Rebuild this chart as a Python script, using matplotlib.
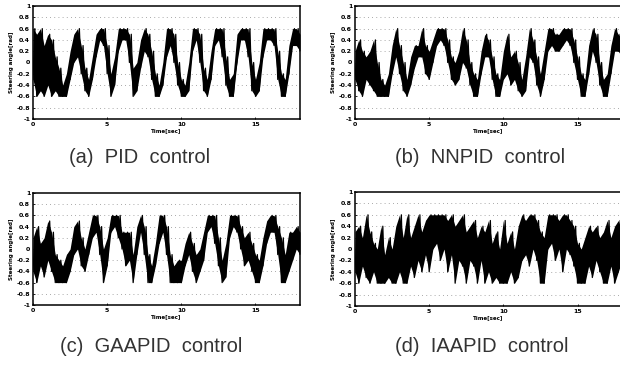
import numpy as np
import matplotlib
matplotlib.use("Agg")
import matplotlib.pyplot as plt

# sample times (s), every 0.25 s
t = np.arange(73) * 0.25

# band of the steering angle [rad]: low / high edge per sample
pid_lo = [-0.3, -0.6, -0.5, -0.6, -0.4, -0.6, -0.5, -0.6, -0.6, -0.6, -0.3, 0.0, 0.1, -0.2, -0.5, -0.6,
          -0.3, 0.1, 0.4, 0.3, -0.2, -0.6, -0.4, 0.2, 0.4, 0.4, 0.0, -0.6, -0.5, -0.1, 0.2, 0.1,
          -0.3, -0.6, -0.6, -0.4, 0.1, 0.3, 0.0, -0.4, -0.6, -0.6, -0.5, 0.2, 0.4, 0.0, -0.5, -0.6,
          -0.3, 0.3, 0.4, 0.1, -0.4, -0.6, -0.6, 0.0, 0.4, 0.4, 0.1, -0.5, -0.6, -0.5, 0.1, 0.4,
          0.4, 0.3, -0.3, -0.6, -0.6, -0.2, 0.3, 0.3, 0.2]
pid_hi = [0.6, 0.5, 0.6, 0.3, 0.5, 0.4, 0.1, -0.1, -0.4, -0.2, 0.2, 0.5, 0.6, 0.3, -0.1, -0.3,
          0.1, 0.5, 0.6, 0.6, 0.3, -0.2, 0.1, 0.6, 0.6, 0.6, 0.5, -0.1, 0.0, 0.4, 0.6, 0.5,
          0.2, -0.2, -0.4, 0.0, 0.6, 0.6, 0.5, 0.0, -0.3, -0.4, 0.0, 0.6, 0.6, 0.5, -0.1, -0.3,
          0.2, 0.6, 0.6, 0.6, 0.1, -0.3, -0.2, 0.5, 0.6, 0.6, 0.6, 0.0, -0.3, 0.0, 0.6, 0.6,
          0.6, 0.6, 0.2, -0.2, -0.3, 0.3, 0.6, 0.6, 0.5]

nnpid_lo = [-0.3, -0.5, -0.6, -0.3, -0.4, -0.5, -0.6, -0.6, -0.6, -0.6, -0.2, 0.1, -0.2, -0.5, -0.6, -0.4,
            -0.1, 0.1, 0.1, -0.2, -0.3, 0.0, 0.3, 0.4, 0.3, 0.0, -0.3, -0.4, -0.3, 0.0, -0.1, -0.4,
            -0.6, -0.6, -0.2, 0.1, 0.1, -0.3, -0.6, -0.6, -0.3, -0.2, -0.4, -0.3, -0.5, -0.6, -0.5, 0.1,
            0.0, -0.4, -0.6, -0.3, 0.2, 0.3, 0.2, 0.2, 0.3, 0.4, 0.3, 0.0, -0.3, -0.6, -0.6, -0.2,
            0.2, 0.0, -0.4, -0.6, -0.6, -0.2, 0.2, 0.2, 0.1]
nnpid_hi = [0.2, 0.4, 0.2, 0.1, 0.2, 0.4, 0.0, -0.3, -0.4, -0.2, 0.3, 0.6, 0.3, 0.0, -0.3, 0.1,
            0.3, 0.3, 0.6, 0.3, 0.2, 0.4, 0.6, 0.6, 0.6, 0.4, 0.1, 0.0, 0.2, 0.6, 0.4, 0.0,
            -0.2, -0.3, 0.2, 0.5, 0.4, 0.1, -0.2, -0.3, 0.2, 0.5, 0.1, 0.2, 0.0, -0.3, 0.1, 0.6,
            0.4, 0.1, -0.2, 0.2, 0.6, 0.6, 0.5, 0.5, 0.6, 0.6, 0.6, 0.4, 0.1, -0.2, -0.3, 0.3,
            0.6, 0.5, 0.0, -0.3, -0.2, 0.3, 0.6, 0.5, 0.4]

gaapid_lo = [-0.4, -0.6, -0.3, -0.5, -0.2, -0.4, -0.6, -0.6, -0.6, -0.6, -0.4, -0.1, 0.0, -0.3, -0.4, -0.1,
             0.2, 0.3, -0.1, -0.6, -0.3, 0.3, 0.4, 0.2, 0.0, -0.3, -0.2, -0.6, -0.1, 0.3, -0.1, -0.6,
             -0.6, -0.3, 0.1, 0.3, -0.1, -0.6, -0.6, -0.6, -0.6, -0.3, -0.1, -0.4, -0.6, -0.4, -0.2, 0.3,
             0.4, 0.1, -0.3, -0.6, -0.5, 0.2, 0.4, 0.3, 0.0, -0.3, -0.2, -0.4, -0.6, -0.6, -0.3, 0.1,
             0.3, 0.3, -0.1, -0.6, -0.6, -0.4, -0.2, 0.0, -0.1]
gaapid_hi = [0.2, 0.4, 0.1, 0.2, 0.5, 0.3, -0.1, -0.2, -0.3, -0.1, 0.0, 0.4, 0.5, 0.2, 0.0, 0.3,
             0.6, 0.6, 0.4, 0.0, 0.2, 0.6, 0.6, 0.6, 0.3, 0.3, 0.3, -0.1, 0.4, 0.6, 0.4, -0.1,
             -0.3, 0.1, 0.6, 0.6, 0.4, -0.1, -0.3, -0.2, -0.2, 0.1, 0.3, 0.1, -0.1, 0.0, 0.3, 0.6,
             0.6, 0.6, 0.2, -0.2, 0.1, 0.6, 0.6, 0.6, 0.4, 0.2, 0.3, 0.1, -0.1, -0.2, 0.2, 0.5,
             0.6, 0.6, 0.4, 0.2, -0.1, 0.3, 0.3, 0.4, 0.3]

iaapid_lo = [-0.4, -0.6, -0.3, -0.5, -0.6, -0.4, -0.6, -0.6, -0.6, -0.5, -0.6, -0.6, -0.4, -0.6, -0.6, -0.3,
             -0.5, -0.2, -0.4, -0.1, -0.4, 0.0, 0.1, -0.2, 0.0, -0.4, -0.1, -0.6, -0.2, -0.3, -0.6, -0.2,
             -0.3, -0.6, -0.2, -0.6, -0.4, -0.6, -0.5, -0.6, -0.6, -0.6, -0.4, -0.6, -0.5, -0.2, -0.1, -0.3,
             0.0, -0.2, -0.6, -0.6, 0.0, 0.1, -0.2, 0.0, -0.4, 0.0, -0.1, -0.3, -0.6, -0.6, -0.6, -0.3,
             -0.5, -0.2, -0.4, -0.6, -0.6, -0.3, -0.6, -0.4, -0.2]
iaapid_hi = [0.3, 0.4, 0.2, 0.6, 0.3, 0.1, 0.0, 0.4, -0.1, 0.2, 0.0, 0.4, 0.6, 0.2, 0.6, 0.2,
             0.4, 0.6, 0.3, 0.5, 0.6, 0.6, 0.6, 0.6, 0.6, 0.5, 0.6, 0.4, 0.5, 0.6, 0.3, 0.4,
             0.5, 0.2, 0.4, 0.3, 0.5, 0.1, 0.3, 0.0, 0.5, 0.1, 0.3, 0.0, 0.4, 0.6, 0.5, 0.6,
             0.6, 0.5, 0.3, 0.2, 0.6, 0.6, 0.6, 0.5, 0.6, 0.6, 0.5, 0.4, 0.1, 0.0, 0.2, 0.4,
             0.3, 0.4, 0.2, 0.3, 0.5, 0.2, 0.4, 0.5, 0.3]

yticks = [1, 0.8, 0.6, 0.4, 0.2, 0, -0.2, -0.4, -0.6, -0.8, -1]
ytick_labels = ["1", "0.8", "0.6", "0.4", "0.2", "0", "-0.2", "-0.4", "-0.6", "-0.8", "-1"]
xticks = [0, 5, 10, 15]

panels = [
    ("(a)  PID  control", pid_lo, pid_hi, [33, 6, 267, 113], 140, 158),
    ("(b)  NNPID  control", nnpid_lo, nnpid_hi, [355, 6, 267, 113], 480, 158),
    ("(c)  GAAPID  control", gaapid_lo, gaapid_hi, [33, 193, 267, 112], 151, 346),
    ("(d)  IAAPID  control", iaapid_lo, iaapid_hi, [355, 192, 267, 114], 482, 346),
]

W, H = 620, 367
fig = plt.figure(figsize=(6.2, 3.67), dpi=100)

for caption, lo, hi, box, cx, cy in panels:
    x0, y0, w, h = box
    ax = fig.add_axes([x0 / W, 1 - (y0 + h) / H, w / W, h / H])
    lo = np.array(lo)
    hi = np.array(hi)
    ax.fill_between(t, lo, hi, color="black", lw=0)
    # zigzag between the band edges
    zx = np.ravel(np.column_stack([t, t + 0.125]))
    zy = np.ravel(np.column_stack([lo, hi]))
    ax.plot(zx, zy, color="black", lw=0.9)
    for y in [0.8, 0.6, 0.4, 0.2, -0.2, -0.4, -0.8]:
        ax.axhline(y, color="0.55", lw=0.6, ls=(0, (1, 4)), zorder=0)
    ax.set_xlim(0, 18)
    ax.set_ylim(-1, 1)
    ax.set_yticks(yticks)
    ax.set_yticklabels(ytick_labels)
    ax.set_xticks(xticks)
    ax.tick_params(labelsize=4.5, length=1.5, width=0.6, pad=2, direction="in")
    for lab in ax.get_xticklabels() + ax.get_yticklabels():
        lab.set_fontweight("bold")
    for s in ax.spines.values():
        s.set_linewidth(1.1)
    ax.set_xlabel("Time[sec]", fontsize=4, fontweight="bold", labelpad=1)
    ax.set_ylabel("Steering angle[rad]", fontsize=4, fontweight="bold", labelpad=2)
    fig.text(cx / W, 1 - cy / H, caption, ha="center", va="center",
             fontsize=14.5, color="#333333", family="Liberation Sans")

fig.savefig("out.png", dpi=100)
